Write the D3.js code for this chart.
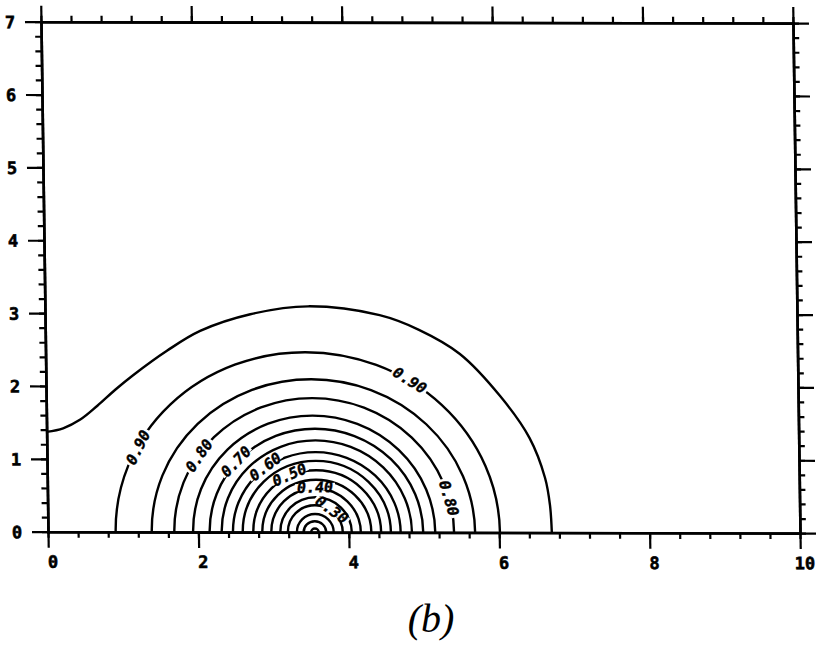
<!DOCTYPE html>
<html lang="en">
<head>
<meta charset="utf-8" />
<title>Contour plot (b)</title>
<script src="https://d3js.org/d3.v7.min.js"></script>
<style>
  body { margin: 0; background: #fff; }
  svg { display: block; }
</style>
</head>
<body>
<div id="chart"></div>
<script>
    // inner contours: each is a half ring standing on the x axis
    const levels    = [0.90, 0.85, 0.80, 0.75, 0.70, 0.65, 0.60, 0.55, 0.50, 0.45, 0.40, 0.35, 0.30, 0.25, 0.20, 0.15];
    const footLeft  = [0.90, 1.38, 1.68, 1.93, 2.15, 2.31, 2.46, 2.59, 2.73, 2.85, 2.97, 3.09, 3.19, 3.31, 3.40, 3.50];
    const footRight = [6.01, 5.68, 5.40, 5.15, 4.99, 4.84, 4.69, 4.56, 4.43, 4.30, 4.16, 4.04, 3.92, 3.80, 3.70, 3.60];
    const peak      = [2.47, 2.10, 1.84, 1.60, 1.42, 1.26, 1.10, 0.98, 0.85, 0.72, 0.60, 0.48, 0.37, 0.25, 0.15, 0.05];

    // outermost contour (0.95), pulled towards the left wall
    const outerX = [0, 0.22, 0.45, 0.68, 0.92, 1.16, 1.62, 2.06, 2.73, 3.50, 4.45, 4.97, 5.51, 6.04, 6.42, 6.62, 6.68, 6.70];
    const outerY = [1.37, 1.42, 1.54, 1.73, 1.95, 2.15, 2.49, 2.76, 2.99, 3.10, 2.98, 2.78, 2.45, 1.87, 1.30, 0.75, 0.38, 0];

    // labels written on the contours
    const labelText  = ["0.90", "0.90", "0.80", "0.80", "0.70", "0.60", "0.50", "0.40", "0.30"];
    const labelX     = [1.21, 4.84, 2.02, 5.34, 2.51, 2.90, 3.22, 3.56, 3.78];
    const labelY     = [1.16, 2.09, 1.05, 0.47, 0.97, 0.90, 0.79, 0.62, 0.31];
    const labelAngle = [-63, 32, -55, 74, -46, -37, -24, -2, 36];

    const xTicks = [0, 2, 4, 6, 8, 10];
    const yTicks = [0, 1, 2, 3, 4, 5, 6, 7];
    const xMinor = d3.range(26).map(i => i * 0.4);
    const yMinor = d3.range(36).map(i => i * 0.2);

    const svg = d3.select("#chart")
        .append("svg")
        .attr("width", 820)
        .attr("height", 649);

    const x = d3.scaleLinear().domain([0, 10]).range([48, 800]);
    const y = d3.scaleLinear().domain([0, 7]).range([531.7, 21.7]);

    // the scan is slightly sheared, so is the plot
    const plot = svg.append("g")
        .attr("transform", `translate(48,531.7) skewY(0.107) skewX(0.79) translate(-48,-531.7)`);

    // contours
    const arcPath = i => {
        const x0 = x(footLeft[i]), x1 = x(footRight[i]);
        const rx = (x1 - x0) / 2, ry = y(0) - y(peak[i]);
        return `M${x0},${y(0)}A${rx},${ry} 0 0 1 ${x1},${y(0)}`;
    };

    plot.append("g")
        .selectAll("path")
        .data(levels)
        .enter().append("path")
        .attr("d", (d, i) => arcPath(i))
        .attr("fill", "none")
        .attr("stroke", "#000")
        .attr("stroke-width", 2.4);

    const outerLine = d3.line()
        .x(i => x(outerX[i]))
        .y(i => y(outerY[i]))
        .curve(d3.curveCatmullRom.alpha(0.5));

    plot.append("path")
        .attr("d", outerLine(d3.range(outerX.length)))
        .attr("fill", "none")
        .attr("stroke", "#000")
        .attr("stroke-width", 2.4);

    // contour labels with a white gap under them
    const labels = plot.append("g")
        .selectAll("g")
        .data(labelText)
        .enter().append("g")
        .attr("transform", (d, i) => `translate(${x(labelX[i])},${y(labelY[i])}) rotate(${labelAngle[i]})`);

    labels.append("rect").attr("fill", "#fff");
    labels.append("text")
        .attr("text-anchor", "middle")
        .attr("dy", "0.36em")
        .attr("font-family", "DejaVu Sans Mono")
        .attr("font-weight", "bold")
        .attr("font-style", "italic")
        .attr("font-size", 15)
        .attr("stroke", "#000")
        .attr("stroke-width", 0.4)
        .text(d => d);
    labels.each(function () {
        const g = d3.select(this);
        const w = g.select("text").node().getComputedTextLength() + 4;
        g.select("rect").attr("x", -w / 2).attr("y", -3.5).attr("width", w).attr("height", 7);
    });

    // axes: minor ticks, then major ticks
    function side(axis, pos, vals, size, fmt) {
        const g = plot.append("g")
            .attr("transform", pos)
            .call(axis.tickValues(vals).tickSize(size).tickSizeOuter(0).tickFormat(fmt));
        g.select(".domain").attr("stroke-width", 2.6).attr("stroke-linecap", "square");
        g.selectAll(".tick line").attr("stroke-width", 2.2);
        g.selectAll("text")
            .attr("font-family", "DejaVu Sans Mono")
            .attr("font-weight", "bold")
            .attr("font-size", 17)
            .attr("stroke", "#000")
            .attr("stroke-width", 0.6)
            .attr("fill", "#000");
        return g;
    }

    side(d3.axisBottom(x), `translate(0,${y(0)})`, xMinor, 6, "");
    side(d3.axisTop(x), `translate(0,${y(7)})`, xMinor, 6, "");
    side(d3.axisLeft(y), `translate(${x(0)},0)`, yMinor, 6, "");
    side(d3.axisRight(y), `translate(${x(10)},0)`, yMinor, 6, "");

    side(d3.axisBottom(x), `translate(0,${y(0)})`, xTicks, 16, d3.format("d"))
        .selectAll("text").attr("x", 4).attr("y", 30).attr("dy", "0.36em");
    side(d3.axisTop(x), `translate(0,${y(7)})`, xTicks, 16, "");
    side(d3.axisLeft(y), `translate(${x(0)},0)`, yTicks, 16, d3.format("d"))
        .selectAll("text").attr("x", -31).attr("text-anchor", "middle").attr("dy", "0.36em");
    side(d3.axisRight(y), `translate(${x(10)},0)`, yTicks, 16, "");

    // panel caption
    svg.append("text")
        .attr("x", 431)
        .attr("y", 632)
        .attr("text-anchor", "middle")
        .attr("font-family", "Liberation Serif")
        .attr("font-style", "italic")
        .attr("font-size", 40)
        .text("(b)");
</script>
</body>
</html>
